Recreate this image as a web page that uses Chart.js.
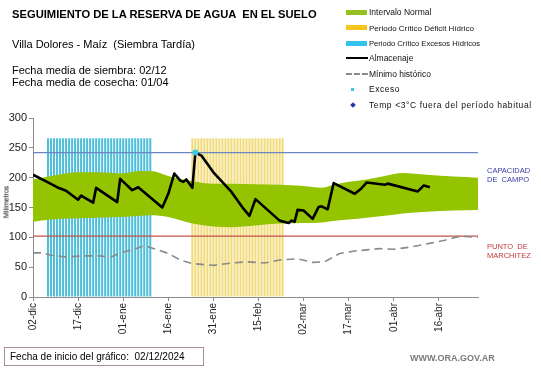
<!DOCTYPE html>
<html lang="es">
<head>
<meta charset="utf-8">
<title>Seguimiento de la reserva de agua en el suelo</title>
<script src="https://cdn.jsdelivr.net/npm/chart.js@4.4.1/dist/chart.umd.min.js"></script>
<style>
  body { margin: 0; background: #fff; font-family: "Liberation Sans", Arial, sans-serif; }
  #wrap { position: relative; width: 541px; height: 368px; overflow: hidden; }
  #reservaChart { position: absolute; left: 0; top: 0; }
  .txt { position: absolute; white-space: pre; color: #000; line-height: 1; }
  .titulo { left: 12px; top: 9px; font-size: 11.2px; font-weight: bold; }
  .sub { left: 12px; font-size: 11px; }
  .ley { position: absolute; left: 346px; height: 12px; font-size: 8.5px; color: #111; white-space: pre; }
  .ley span.sym { position: absolute; left: 0; top: 50%; }
  .ley span.lbl { position: absolute; left: 23px; top: 50%; transform: translateY(-50%); }
  .ref { position: absolute; left: 487px; font-size: 7.5px; line-height: 9px; white-space: pre; }
  .pie { left: 4px; top: 347px; width: 193px; height: 17px; border: 1px solid #a89090;
         font-size: 10px; line-height: 17px; padding-left: 5px; }
  .web { left: 410px; top: 354px; font-size: 9px; font-weight: bold; color: #7a7a7a; }
</style>
</head>
<body>
<div id="wrap">
  <canvas id="reservaChart" width="541" height="368"></canvas>

  <div class="txt titulo">SEGUIMIENTO DE LA RESERVA DE AGUA  EN EL SUELO</div>
  <div class="txt sub" style="top:39px">Villa Dolores - Maíz  (Siembra Tardía)</div>
  <div class="txt sub" style="top:65px">Fecha media de siembra: 02/12</div>
  <div class="txt sub" style="top:77px">Fecha media de cosecha: 01/04</div>

  <div class="ley" style="top:6px"><span class="sym" style="width:21px;height:5px;margin-top:-2.5px;background:#94c11f"></span><span class="lbl">Intervalo Normal</span></div>
  <div class="ley" style="top:21.5px;font-size:8px"><span class="sym" style="width:21px;height:5px;margin-top:-2.5px;background:#f7c51e"></span><span class="lbl">Periodo Crítico Déficit Hídrico</span></div>
  <div class="ley" style="top:37px;font-size:7.6px"><span class="sym" style="width:21px;height:5px;margin-top:-2.5px;background:#33c3ea"></span><span class="lbl">Periodo Crítico Excesos Hídricos</span></div>
  <div class="ley" style="top:52px"><span class="sym" style="width:22px;height:2px;margin-top:-1px;background:#000"></span><span class="lbl">Almacenaje</span></div>
  <div class="ley" style="top:67.5px"><span class="sym" style="width:22px;height:0;margin-top:-1px;border-top:2px dashed #8a8a8a"></span><span class="lbl">Mínimo histórico</span></div>
  <div class="ley" style="top:83px;letter-spacing:0.5px"><span class="sym" style="left:5px;width:3px;height:3px;margin-top:-1.5px;background:#3cc8e6"></span><span class="lbl">Exceso</span></div>
  <div class="ley" style="top:99px;letter-spacing:0.6px"><span class="sym" style="left:5px;width:4px;height:4px;margin-top:-2px;background:#1f3d9e;transform:rotate(45deg)"></span><span class="lbl">Temp &lt;3°C fuera del período habitual</span></div>

  <div class="ref" style="top:166px;color:#3a3aa8">CAPACIDAD
DE  CAMPO</div>
  <div class="ref" style="top:242px;color:#c03a3a">PUNTO  DE
MARCHITEZ</div>

  <div class="txt" style="left:6px;top:202px;font-size:7px;transform:translate(-50%,-50%) rotate(-90deg)">Milímetros</div>

  <div class="txt pie">Fecha de inicio del gráfico:  02/12/2024</div>
  <div class="txt web">WWW.ORA.GOV.AR</div>
</div>

<script>
// ===== DATOS =====
// dias contados desde el 02-dic
const tickDias = [0, 15, 30, 45, 60, 75, 90, 105, 120, 135];
const tickFechas = ["02-dic", "17-dic", "01-ene", "16-ene", "31-ene", "15-feb", "02-mar", "17-mar", "01-abr", "16-abr"];

// Intervalo normal (banda verde)
const bandaDias = [0, 6, 15, 22, 29, 36, 39, 45, 53, 60, 66, 74, 82, 90, 96, 99, 105, 111, 117, 123, 131, 140, 148];
const bandaSup = [197, 203, 209, 209, 207, 211, 211, 203, 194, 190, 190, 189, 188, 186, 183, 187, 193, 197, 203, 208, 205, 202, 200];
const bandaInf = [126, 130, 132, 133, 134, 136, 137, 134, 123, 118, 117, 120, 123, 124, 125, 127, 130, 133, 136, 140, 143, 145, 146];

// Almacenaje
const almDias = [0, 5, 8, 11, 15, 16, 20, 21, 28, 29, 33, 35, 43, 45, 47, 49, 50, 51, 53, 54, 56, 60, 66, 70, 72, 74, 82, 85, 86, 87, 88, 90, 93, 95, 96, 98, 100, 107, 109, 111, 117, 118, 128, 130, 132];
const almValores = [205, 192, 184, 178, 163, 170, 158, 183, 159, 198, 179, 184, 150, 173, 207, 195, 193, 197, 183, 242, 237, 209, 176, 148, 136, 164, 128, 124, 128, 126, 146, 145, 131, 151, 152, 147, 191, 173, 181, 192, 188, 190, 177, 187, 184];

// Minimo historico
const minDias = [0, 3, 6, 11, 17, 22, 26, 29, 33, 37, 39, 45, 49, 53, 60, 66, 71, 77, 82, 88, 93, 97, 102, 107, 111, 115, 120, 126, 131, 137, 142, 148];
const minValores = [74, 74, 70, 67, 69, 69, 67, 74, 79, 86, 83, 73, 62, 56, 53, 57, 59, 57, 62, 64, 58, 59, 73, 77, 79, 81, 80, 84, 89, 95, 102, 100];

// Periodos criticos (dias marcados con barra)
const excesoDias = [5, 6, 7, 8, 9, 10, 11, 12, 13, 14, 15, 16, 17, 18, 19, 20, 21, 22, 23, 24, 25, 26, 27, 28, 29, 30, 31, 32, 33, 34, 35, 36, 37, 38, 39];
const deficitDias = [53, 54, 55, 56, 57, 58, 59, 60, 61, 62, 63, 64, 65, 66, 67, 68, 69, 70, 71, 72, 73, 74, 75, 76, 77, 78, 79, 80, 81, 82, 83];
const topePeriodo = 266;

// Exceso puntual
const excesoPuntoDias = [54];
const excesoPuntoValores = [242];

// Limites de referencia
const capacidadCampo = 242;
const puntoMarchitez = 102;
const diaFinal = 148;

// ===== HELPERS =====
function puntos(dias, valores) {
  return dias.map((d, i) => ({ x: d, y: valores[i] }));
}

function barras(dias, altura) {
  return dias.map((d) => ({ x: d, y: altura }));
}

function lineaHorizontal(valor) {
  return [{ x: 0, y: valor }, { x: diaFinal, y: valor }];
}

// ===== GRAFICO =====
function initReservaChart() {
  const ctx = document.getElementById("reservaChart").getContext("2d");
  Chart.defaults.font.family = '"Liberation Sans", Arial, sans-serif';

  new Chart(ctx, {
    type: "line",
    data: {
      datasets: [
        {
          type: "bar",
          data: barras(excesoDias, topePeriodo),
          backgroundColor: "#4fbfd9",
          barPercentage: 0.68,
          categoryPercentage: 1,
          grouped: false,
          order: 5,
        },
        {
          type: "bar",
          data: barras(deficitDias, topePeriodo),
          backgroundColor: "#f1da78",
          barPercentage: 0.68,
          categoryPercentage: 1,
          grouped: false,
          order: 5,
        },
        {
          data: puntos(bandaDias, bandaInf),
          borderColor: "transparent",
          borderWidth: 0,
          pointRadius: 0,
          fill: false,
          cubicInterpolationMode: "monotone",
          order: 4,
        },
        {
          data: puntos(bandaDias, bandaSup),
          borderColor: "transparent",
          borderWidth: 0,
          pointRadius: 0,
          backgroundColor: "#94c400",
          fill: "-1",
          cubicInterpolationMode: "monotone",
          order: 4,
        },
        {
          data: lineaHorizontal(capacidadCampo),
          borderColor: "#6a87c4",
          borderWidth: 1.3,
          pointRadius: 0,
          order: 3,
        },
        {
          data: lineaHorizontal(puntoMarchitez),
          borderColor: "#c0504d",
          borderWidth: 1.3,
          pointRadius: 0,
          order: 3,
        },
        {
          data: puntos(minDias, minValores),
          borderColor: "#8a8a8a",
          borderWidth: 1.6,
          borderDash: [8, 5],
          pointRadius: 0,
          order: 2,
        },
        {
          data: puntos(almDias, almValores),
          borderColor: "#000",
          borderWidth: 2.6,
          borderJoinStyle: "round",
          pointRadius: 0,
          order: 1,
        },
        {
          data: puntos(excesoPuntoDias, excesoPuntoValores),
          showLine: false,
          pointRadius: 3,
          pointBackgroundColor: "#3cc8e6",
          pointBorderWidth: 0,
          order: 0,
        },
      ],
    },
    options: {
      responsive: false,
      animation: false,
      layout: { padding: { left: 0, right: 63, top: 118, bottom: 26 } },
      plugins: {
        legend: { display: false },
        tooltip: { enabled: false },
      },
      scales: {
        x: {
          type: "linear",
          min: 0,
          max: diaFinal,
          offset: false,
          afterBuildTicks: function (scale) {
            scale.ticks = tickDias.map((v) => ({ value: v }));
          },
          afterFit: function (scale) {
            scale.height = 45;
          },
          ticks: {
            autoSkip: false,
            minRotation: 90,
            maxRotation: 90,
            padding: 2,
            color: "#222",
            font: { size: 10 },
            callback: function (value, index) {
              return tickFechas[index];
            },
          },
          grid: { offset: false, drawOnChartArea: false, tickLength: 4, color: "#8c8c8c" },
          border: { color: "#8c8c8c" },
        },
        y: {
          min: 0,
          max: 300,
          afterFit: function (scale) {
            scale.width = 33;
          },
          ticks: { stepSize: 50, padding: 2, color: "#222", font: { size: 11 } },
          grid: { drawOnChartArea: false, tickLength: 4, color: "#8c8c8c" },
          border: { color: "#8c8c8c" },
        },
      },
    },
  });
}

document.addEventListener("DOMContentLoaded", function () {
  if (typeof Chart !== "undefined") {
    initReservaChart();
  }
});
</script>
</body>
</html>
